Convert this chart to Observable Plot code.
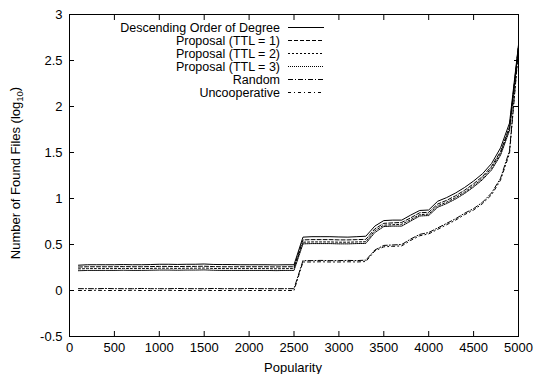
<!DOCTYPE html>
<html>
<head>
<meta charset="utf-8">
<script src="https://cdn.jsdelivr.net/npm/d3@7"></script>
<script src="https://cdn.jsdelivr.net/npm/@observablehq/plot@0.6"></script>
<style>
  body { margin: 0; background: #fff; }
  #chart svg { display: block; }
</style>
</head>
<body>
<div id="chart"></div>
<script>
// Popularity rank (x) at which each curve is sampled
const popularity = [
  100, 200, 300, 400, 500, 600, 700, 800, 900, 1000,
  1100, 1200, 1300, 1400, 1500, 1600, 1700, 1800, 1900, 2000,
  2100, 2200, 2300, 2400, 2500, 2600, 2700, 2800, 2900, 3000,
  3100, 3200, 3300, 3400, 3500, 3600, 3700, 3800, 3900, 4000,
  4100, 4200, 4300, 4400, 4500, 4600, 4700, 4800, 4900, 5000
];

// log10 of the number of found files, one array per strategy
const descendingDegree = [
  0.275, 0.28, 0.28, 0.28, 0.28, 0.282, 0.28, 0.28, 0.282, 0.285,
  0.285, 0.283, 0.285, 0.285, 0.288, 0.283, 0.282, 0.282, 0.28, 0.28,
  0.28, 0.28, 0.278, 0.28, 0.28, 0.58, 0.585, 0.585, 0.585, 0.582,
  0.58, 0.585, 0.59, 0.70, 0.76, 0.765, 0.765, 0.82, 0.87, 0.875,
  0.97, 1.01, 1.06, 1.12, 1.19, 1.27, 1.38, 1.55, 1.82, 2.67
];
const proposalTTL1 = [
  0.255, 0.258, 0.258, 0.258, 0.258, 0.26, 0.258, 0.258, 0.26, 0.262,
  0.262, 0.26, 0.262, 0.262, 0.264, 0.26, 0.258, 0.258, 0.258, 0.258,
  0.258, 0.258, 0.256, 0.258, 0.258, 0.55, 0.553, 0.553, 0.553, 0.55,
  0.55, 0.553, 0.556, 0.67, 0.73, 0.735, 0.74, 0.79, 0.845, 0.85,
  0.94, 0.98, 1.03, 1.09, 1.16, 1.24, 1.35, 1.51, 1.78, 2.66
];
const proposalTTL2 = [
  0.235, 0.238, 0.238, 0.238, 0.238, 0.24, 0.238, 0.238, 0.24, 0.242,
  0.242, 0.24, 0.242, 0.242, 0.244, 0.24, 0.238, 0.238, 0.238, 0.238,
  0.238, 0.238, 0.236, 0.238, 0.238, 0.525, 0.528, 0.528, 0.528, 0.525,
  0.525, 0.528, 0.53, 0.65, 0.71, 0.715, 0.72, 0.77, 0.825, 0.83,
  0.92, 0.96, 1.01, 1.07, 1.14, 1.22, 1.33, 1.49, 1.76, 2.65
];
const proposalTTL3 = [
  0.215, 0.218, 0.218, 0.218, 0.218, 0.22, 0.218, 0.218, 0.22, 0.222,
  0.222, 0.22, 0.222, 0.222, 0.224, 0.22, 0.218, 0.218, 0.218, 0.218,
  0.218, 0.218, 0.216, 0.218, 0.218, 0.507, 0.51, 0.51, 0.51, 0.507,
  0.507, 0.51, 0.512, 0.63, 0.695, 0.70, 0.70, 0.755, 0.81, 0.815,
  0.905, 0.945, 0.995, 1.055, 1.125, 1.205, 1.31, 1.47, 1.74, 2.64
];
const random = [
  0.02, 0.02, 0.02, 0.022, 0.02, 0.02, 0.02, 0.022, 0.02, 0.02,
  0.02, 0.022, 0.02, 0.02, 0.02, 0.022, 0.02, 0.02, 0.02, 0.022,
  0.02, 0.02, 0.02, 0.02, 0.02, 0.325, 0.325, 0.327, 0.325, 0.325,
  0.327, 0.325, 0.33, 0.44, 0.49, 0.495, 0.50, 0.56, 0.61, 0.63,
  0.68, 0.73, 0.78, 0.84, 0.89, 0.96, 1.06, 1.22, 1.52, 2.63
];
const uncooperative = [
  0.0, 0.0, 0.002, 0.0, 0.0, 0.0, 0.002, 0.0, 0.0, 0.0,
  0.002, 0.0, 0.0, 0.0, 0.002, 0.0, 0.0, 0.0, 0.002, 0.0,
  0.0, 0.0, 0.002, 0.0, 0.0, 0.31, 0.31, 0.312, 0.31, 0.31,
  0.312, 0.31, 0.315, 0.43, 0.475, 0.48, 0.485, 0.545, 0.595, 0.615,
  0.665, 0.715, 0.765, 0.825, 0.875, 0.945, 1.04, 1.20, 1.49, 2.62
];

const seriesNames = [
  "Descending Order of Degree",
  "Proposal (TTL = 1)",
  "Proposal (TTL = 2)",
  "Proposal (TTL = 3)",
  "Random",
  "Uncooperative"
];
const seriesValues = [descendingDegree, proposalTTL1, proposalTTL2, proposalTTL3, random, uncooperative];
const seriesDash = [null, "4,2", "2,2", "1,1", "5,2,1,2", "3,3,1,3"];

const xTicks = [0, 500, 1000, 1500, 2000, 2500, 3000, 3500, 4000, 4500, 5000];
const yTicks = [-0.5, 0, 0.5, 1, 1.5, 2, 2.5, 3];

const font = "'Liberation Sans', Arial, Helvetica, sans-serif";

const lineMarks = seriesValues.map((vals, k) =>
  Plot.line(popularity.map((p, i) => ({pop: p, v: vals[i]})), {
    x: "pop", y: "v", stroke: "#000", strokeWidth: 1,
    strokeDasharray: seriesDash[k] || undefined
  })
);

const chart = Plot.plot({
  width: 535,
  height: 374,
  marginLeft: 69,
  marginRight: 17,
  marginTop: 14,
  marginBottom: 38,
  style: {fontFamily: font, fontSize: "13px", color: "#000", background: "#fff"},
  x: {domain: [0, 5000]},
  y: {domain: [-0.5, 3]},
  marks: [
    Plot.axisX({ticks: xTicks, tickSize: -5, tickPadding: 11, tickFormat: d => String(d), label: null}),
    Plot.axisX({anchor: "top", ticks: xTicks, tickSize: -5, tickFormat: () => "", label: null}),
    Plot.axisY({ticks: yTicks, tickSize: -5, tickPadding: 12, tickFormat: d => String(d), label: null}),
    Plot.axisY({anchor: "right", ticks: yTicks, tickSize: -5, tickFormat: () => "", label: null}),
    ...lineMarks,
    Plot.frame({stroke: "#000", strokeWidth: 1})
  ]
});

document.getElementById("chart").appendChild(chart);

const svg = d3.select(chart);

// Axis titles
svg.append("text")
  .attr("x", 293).attr("y", 367).attr("dy", "0.35em")
  .attr("text-anchor", "middle")
  .style("font-family", font).style("font-size", "13px")
  .text("Popularity");

const yTitle = svg.append("text")
  .attr("transform", "translate(15,173) rotate(-90)")
  .attr("dy", "0.35em")
  .attr("text-anchor", "middle")
  .style("font-family", font).style("font-size", "13px");
yTitle.append("tspan").text("Number of Found Files (log");
yTitle.append("tspan").attr("dy", "0.35em").style("font-size", "9.5px").text("10");
yTitle.append("tspan").attr("dy", "-0.3em").text(")");

// Key, drawn inside the plotting area
const key = svg.append("g").style("font-family", font).style("font-size", "12.5px");
seriesNames.forEach((name, i) => {
  const y = 27.5 + i * 13;
  key.append("text")
    .attr("x", 280).attr("y", y).attr("dy", "0.35em")
    .attr("text-anchor", "end")
    .text(name);
  key.append("line")
    .attr("x1", 288).attr("x2", 324).attr("y1", y).attr("y2", y)
    .attr("stroke", "#000").attr("stroke-width", 1)
    .attr("stroke-dasharray", seriesDash[i]);
});
</script>
</body>
</html>
